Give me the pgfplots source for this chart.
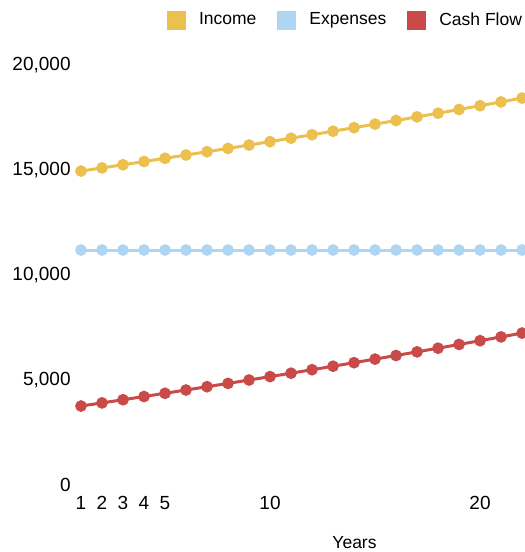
\documentclass[border=0pt]{standalone}
\usepackage{fontspec}
\setmainfont{Liberation Sans}
\usepackage{pgfplots}
\usepackage{pgfplotstable}
\pgfplotsset{compat=1.18}
\definecolor{incomecol}{HTML}{EBC04E}
\definecolor{expcol}{HTML}{AED6F3}
\definecolor{cashcol}{HTML}{CA4A4A}
\pgfplotstableread{
x inc exp cf
1 14950 11190 3760
2 15100 11190 3910
3 15250 11190 4060
4 15403 11190 4213
5 15557 11190 4367
6 15713 11190 4523
7 15870 11190 4680
8 16028 11190 4838
9 16189 11190 4999
10 16351 11190 5161
11 16514 11190 5324
12 16679 11190 5489
13 16846 11190 5656
14 17015 11190 5825
15 17185 11190 5995
16 17356 11190 6166
17 17530 11190 6340
18 17705 11190 6515
19 17883 11190 6693
20 18061 11190 6871
21 18242 11190 7052
22 18424 11190 7234
}\datatable
\begin{document}
\fontsize{17.5bp}{21bp}\selectfont
\begin{tikzpicture}
\path[use as bounding box] (0,0) rectangle (525bp,552bp);
\begin{axis}[
  at={(76.8bp,67bp)}, anchor=south west,
  scale only axis, width=448.2bp, height=441bp,
  xmin=0.8, xmax=22.14, ymin=0, ymax=21000,
  axis line style={draw=none},
  tick style={draw=none},
  major tick length=0pt,
  xtick={1,2,3,4,5,10,20},
  ytick={0,5000,10000,15000,20000},
  scaled y ticks=false,
  /pgf/number format/.cd, assume math mode=true, 1000 sep={,}, /pgfplots/.cd,
  tick label style={font=\fontsize{19bp}{22bp}\selectfont},
  xticklabel style={anchor=base, yshift=-24bp},
  yticklabel style={anchor=east, inner sep=0pt, xshift=-6bp},
  xlabel={Years},
  xlabel style={at={(axis description cs:0.6196,-0.1315)}, anchor=center},
  legend columns=3,
  legend style={draw=none, fill=none, at={(axis description cs:0.9933,1.0544)}, anchor=east,
    inner sep=0pt, outer sep=0pt, nodes={inner sep=0pt},
    /tikz/every odd column/.append style={column sep=13bp},
    /tikz/every even column/.append style={column sep=21bp}},
  legend image code/.code={\fill[#1, draw=none] (0bp,-9.5bp) rectangle (19bp,9.5bp);},
  every axis plot/.append style={line width=3bp, mark=*, mark size=4.3bp},
  clip=true,
]
\addplot[color=incomecol, mark options={fill=incomecol, draw=none}] table[x=x, y=inc] {\datatable};
\addlegendentry{Income}
\addplot[color=expcol, mark options={fill=expcol, draw=none}] table[x=x, y=exp] {\datatable};
\addlegendentry{Expenses}
\addplot[color=cashcol, mark options={fill=cashcol, draw=none}] table[x=x, y=cf] {\datatable};
\addlegendentry{Cash Flow}
\end{axis}
\end{tikzpicture}
\end{document}
